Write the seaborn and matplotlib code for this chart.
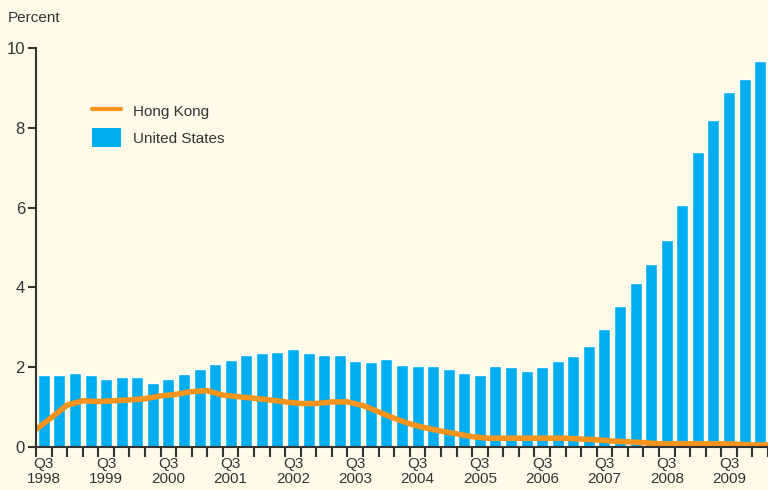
import numpy as np
import pandas as pd
import matplotlib
matplotlib.use("Agg")
import matplotlib.pyplot as plt
from matplotlib.lines import Line2D
from matplotlib.patches import Patch
import seaborn as sns

# 資料
start_year = 1998
quarters = [f"{start_year + (i + 2) // 4}Q{(i + 2) % 4 + 1}" for i in range(47)]
us_rate = [1.80, 1.80, 1.85, 1.80, 1.70, 1.75, 1.75, 1.60, 1.70, 1.83,
           1.95, 2.08, 2.18, 2.31, 2.36, 2.38, 2.45, 2.36, 2.31, 2.31,
           2.16, 2.13, 2.20, 2.06, 2.03, 2.03, 1.95, 1.85, 1.80, 2.03,
           2.00, 1.90, 2.00, 2.16, 2.28, 2.53, 2.96, 3.53, 4.11, 4.59,
           5.19, 6.07, 7.39, 8.20, 8.90, 9.22, 9.67]
hk_rate = [0.44, 0.74, 1.05, 1.16, 1.14, 1.16, 1.18, 1.21, 1.28, 1.32,
           1.39, 1.41, 1.30, 1.26, 1.22, 1.18, 1.13, 1.09, 1.09, 1.13,
           1.13, 1.04, 0.88, 0.72, 0.58, 0.48, 0.40, 0.33, 0.26, 0.22,
           0.22, 0.22, 0.22, 0.22, 0.22, 0.20, 0.18, 0.15, 0.13, 0.11,
           0.08, 0.08, 0.08, 0.08, 0.08, 0.07, 0.05, 0.05]
tick_labels = [f"Q3\n{y}" for y in range(1998, 2010)]

bg = "#FFFBE8"
blue = "#00ADEE"
orange = "#F7941E"
ink = "#333333"
fs = 11

sns.set_style("ticks")
plt.rcParams['font.family'] = ['Liberation Sans', 'DejaVu Sans']

fig = plt.figure(figsize=(7.68, 4.90), dpi=100, facecolor=bg)
ax = fig.add_axes([36 / 768, 43 / 490, 1 - 36 / 768, (447 - 48) / 490])
ax.set_facecolor(bg)

df = pd.DataFrame({"quarter": quarters, "us": us_rate})
sns.barplot(data=df, x="quarter", y="us", color=blue, saturation=1,
            width=0.77, ax=ax, order=quarters)

# 香港線畫在季度分界上
line_df = pd.DataFrame({"pos": np.arange(len(hk_rate)) - 0.5, "hk": hk_rate})
sns.lineplot(data=line_df, x="pos", y="hk", color=orange, linewidth=4,
             ax=ax, solid_joinstyle="round", solid_capstyle="round")

ax.set_xlim(-0.5, 46.27)
ax.set_ylim(0, 10)
ax.set_xlabel("")
ax.set_ylabel("")

# 軸
for s in ["top", "right"]:
    ax.spines[s].set_visible(False)
for s in ["left", "bottom"]:
    ax.spines[s].set_color(ink)
    ax.spines[s].set_linewidth(1.5)
ax.spines["bottom"].set_zorder(5)

ax.set_yticks([0, 2, 4, 6, 8, 10])
ax.tick_params(axis="y", length=6, width=1.5, color=ink, labelsize=fs + 1,
               labelcolor=ink, pad=2)
ax.set_xticks(range(0, 47, 4))
ax.set_xticklabels(tick_labels)
ax.set_xticks(np.arange(0, 48) - 0.5, minor=True)
ax.tick_params(axis="x", which="major", length=0, labelsize=fs,
               labelcolor=ink, pad=7)
ax.tick_params(axis="x", which="minor", length=7, width=1.5, color=ink)
for lab in ax.get_xticklabels():
    lab.set_linespacing(1.15)

fig.text(8 / 768, 1 - 18 / 490, "Percent", fontsize=fs, color=ink,
         va="center", ha="left")

handles = [Line2D([0], [0], color=orange, lw=3),
           Patch(facecolor=blue, edgecolor="none")]
leg = ax.legend(handles, ["Hong Kong", "United States"], loc="upper left",
                bbox_to_anchor=(56 / 732, 1 - 54 / 399), frameon=False,
                fontsize=fs, handlelength=1.9, handleheight=1.5,
                labelspacing=0.5, handletextpad=0.8, borderpad=0,
                borderaxespad=0)
for t in leg.get_texts():
    t.set_color(ink)

fig.savefig("out.png", dpi=100, facecolor=bg)
